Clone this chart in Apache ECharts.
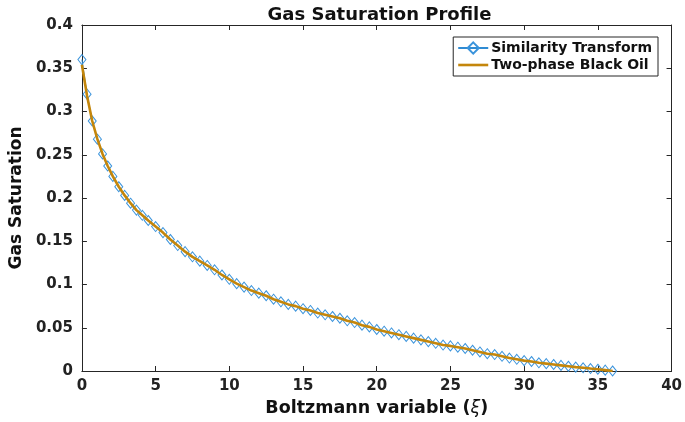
<!DOCTYPE html>
<html>
<head>
<meta charset="utf-8">
<script src="https://cdn.jsdelivr.net/npm/echarts@6/dist/echarts.min.js"></script>
<style>
html,body{margin:0;padding:0;background:#fff;}
#chart{width:685px;height:422px;}
</style>
</head>
<body>
<div id="chart"></div>
<script>
// Boltzmann variable (xi) at each marker
const xiValues = [0, 0.35, 0.7, 1.05, 1.4, 1.75, 2.1, 2.5, 2.9, 3.3, 3.7, 4.1, 4.5,
  5, 5.5, 6, 6.5, 7, 7.5, 8, 8.5, 9, 9.5, 10, 10.5, 11, 11.5, 12, 12.5, 13, 13.5,
  14, 14.5, 15, 15.5, 16, 16.5, 17, 17.5, 18, 18.5, 19, 19.5, 20, 20.5, 21, 21.5,
  22, 22.5, 23, 23.5, 24, 24.5, 25, 25.5, 26, 26.5, 27, 27.5, 28, 28.5, 29, 29.5,
  30, 30.5, 31, 31.5, 32, 32.5, 33, 33.5, 34, 34.5, 35, 35.5, 36];
// Similarity Transform gas saturation
const similaritySat = [0.360, 0.320, 0.289, 0.268, 0.251, 0.237, 0.225, 0.213, 0.203, 0.194, 0.186, 0.180, 0.174,
  0.167, 0.160, 0.152, 0.145, 0.138, 0.132, 0.127, 0.122, 0.117, 0.111, 0.106, 0.101, 0.097, 0.093, 0.090, 0.087, 0.083, 0.080,
  0.077, 0.075, 0.072, 0.070, 0.067, 0.065, 0.063, 0.061, 0.058, 0.056, 0.053, 0.051, 0.048, 0.046, 0.044, 0.042,
  0.040, 0.038, 0.036, 0.034, 0.032, 0.030, 0.029, 0.0275, 0.026, 0.024, 0.022, 0.020, 0.019, 0.017, 0.015, 0.0135,
  0.012, 0.011, 0.0095, 0.0085, 0.0075, 0.0065, 0.0055, 0.0045, 0.0037, 0.0028, 0.002, 0.001, 0.0];
// Two-phase Black Oil gas saturation
const blackOilSat = [0.354, 0.318, 0.289, 0.268, 0.251, 0.237, 0.225, 0.213, 0.203, 0.194, 0.186, 0.180, 0.174,
  0.167, 0.160, 0.152, 0.145, 0.138, 0.132, 0.127, 0.122, 0.117, 0.111, 0.106, 0.101, 0.097, 0.093, 0.090, 0.087, 0.083, 0.080,
  0.077, 0.075, 0.072, 0.070, 0.067, 0.065, 0.063, 0.061, 0.058, 0.056, 0.053, 0.051, 0.048, 0.046, 0.044, 0.042,
  0.040, 0.038, 0.036, 0.034, 0.032, 0.030, 0.029, 0.0275, 0.026, 0.024, 0.022, 0.020, 0.019, 0.017, 0.015, 0.0135,
  0.012, 0.011, 0.0095, 0.0085, 0.0075, 0.0065, 0.0055, 0.0045, 0.0037, 0.0028, 0.002, 0.001, 0.0];
const seriesNames = ['Similarity Transform', 'Two-phase Black Oil'];
const titleText = 'Gas Saturation Profile';
const xName = 'Boltzmann variable ({i|ξ})';
const yName = 'Gas Saturation';

const FONT = '"DejaVu Sans", sans-serif';
const AX = '#262626';
const BLUE = '#3b94dc';
const ORANGE = '#c4860b';
const chart = echarts.init(document.getElementById('chart'), null, {renderer: 'canvas'});

const simData = xiValues.map((x, i) => [x, similaritySat[i]]);
const boData = xiValues.map((x, i) => [x, blackOilSat[i]]);

const tickLabel = {fontFamily: FONT, fontWeight: 'bold', fontSize: 15, color: '#222'};
const axLine = {show: true, onZero: false, lineStyle: {color: AX, width: 1}};
const axTick = {show: true, inside: true, length: 5, lineStyle: {color: AX}};

chart.setOption({
  animation: false,
  backgroundColor: '#fff',
  title: {
    text: titleText, left: 374.5, textAlign: 'center', top: 1,
    textStyle: {fontFamily: FONT, fontWeight: 'bold', fontSize: 18, color: '#111'}
  },
  grid: {left: 77, right: 13, top: 25, bottom: 50, containLabel: false},
  legend: {
    data: [
      {name: seriesNames[0]},
      {name: seriesNames[1], icon: 'path://M0,0L30,0L30,2.6L0,2.6Z', itemStyle: {color: ORANGE}}
    ],
    orient: 'vertical', right: 27, top: 37, symbolKeepAspect: true,
    backgroundColor: '#fff', borderColor: AX, borderWidth: 1,
    padding: [4, 6, 4, 4], itemGap: 3, itemWidth: 30, itemHeight: 14,
    textStyle: {fontFamily: FONT, fontWeight: 'bold', fontSize: 14, color: '#111', padding: [0, 0, 0, -2]}
  },
  xAxis: [{
    type: 'value', min: 0, max: 40, interval: 5, position: 'bottom',
    axisLine: axLine, axisTick: axTick,
    axisLabel: Object.assign({margin: 8}, tickLabel),
    splitLine: {show: false},
    name: xName, nameLocation: 'middle', nameGap: 28,
    nameTextStyle: {fontFamily: FONT, fontWeight: 'bold', fontSize: 17.5, color: '#111',
      rich: {i: {fontFamily: FONT, fontStyle: 'italic', fontWeight: 'normal', fontSize: 17.5, color: '#111'}}}
  }, {
    type: 'value', min: 0, max: 40, interval: 5, position: 'top',
    axisLine: axLine, axisTick: axTick,
    axisLabel: {show: false}, splitLine: {show: false}
  }],
  yAxis: [{
    type: 'value', min: 0, max: 0.4, interval: 0.05, position: 'left',
    axisLine: axLine, axisTick: axTick,
    axisLabel: Object.assign({margin: 9}, tickLabel),
    splitLine: {show: false},
    name: yName, nameLocation: 'middle', nameGap: 47, nameRotate: 90,
    nameTextStyle: {fontFamily: FONT, fontWeight: 'bold', fontSize: 17, color: '#111'}
  }, {
    type: 'value', min: 0, max: 0.4, interval: 0.05, position: 'right',
    axisLine: axLine, axisTick: axTick,
    axisLabel: {show: false}, splitLine: {show: false}
  }],
  series: [{
    name: seriesNames[0], type: 'line', data: simData,
    symbol: 'diamond', symbolSize: [8, 10], showSymbol: true,
    lineStyle: {color: '#2f8bd3', width: 1},
    itemStyle: {color: 'rgba(255,255,255,0)', borderColor: BLUE, borderWidth: 1},
    z: 2
  }, {
    name: seriesNames[1], type: 'line', data: boData,
    symbol: 'none', smooth: false,
    lineStyle: {color: ORANGE, width: 2.6},
    itemStyle: {color: ORANGE},
    z: 3
  }]
});
</script>
</body>
</html>
